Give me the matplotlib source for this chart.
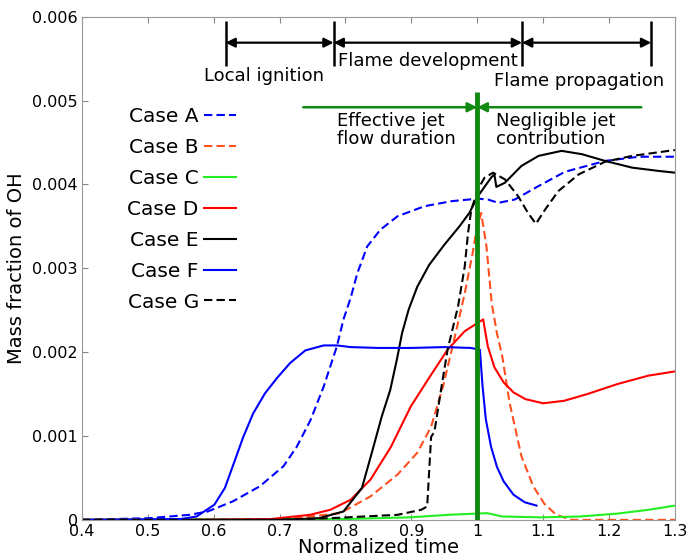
import matplotlib
matplotlib.use("Agg")
import matplotlib.pyplot as plt

# --- data ------------------------------------------------------------------
a_x = [0.4, 0.502, 0.563, 0.591, 0.629, 0.67, 0.706, 0.726, 0.747, 0.767, 0.787, 0.797,
       0.808, 0.818, 0.833, 0.853, 0.879, 0.92, 0.961, 1.001, 1.016, 1.032, 1.057,
       1.093, 1.133, 1.194, 1.245, 1.3]
a_y = [0, 0.00002, 0.00006, 0.0001, 0.00022, 0.0004, 0.00064, 0.00087, 0.00119,
       0.00159, 0.00207, 0.00239, 0.00265, 0.00294, 0.00326, 0.00346, 0.00362,
       0.00374, 0.0038, 0.00383, 0.00382, 0.00378, 0.00382, 0.00398, 0.00415,
       0.00428, 0.00433, 0.00433]

b_x = [0.4, 0.7, 0.792, 0.838, 0.879, 0.909, 0.93, 0.948, 0.965, 0.981, 0.993, 0.998,
       1.006, 1.014, 1.022, 1.03, 1.038, 1.049, 1.067, 1.085, 1.102, 1.12, 1.143, 1.3]
b_y = [0, 0, 0.00008, 0.00028, 0.00054, 0.0008, 0.00111, 0.00159, 0.00215, 0.0027,
       0.00318, 0.00342, 0.00366, 0.00326, 0.00258, 0.00222, 0.00195, 0.0014,
       0.00076, 0.0004, 0.00019, 0.00006, 0, 0]

c_x = [0.4, 0.8, 0.898, 0.956, 1.0, 1.015, 1.038, 1.096, 1.155, 1.213, 1.26, 1.3]
c_y = [0, 0.00001, 0.00003, 0.00006, 0.000075, 0.00008, 0.00004, 0.00003, 0.00004,
       0.000075, 0.00012, 0.00017]

d_x = [0.4, 0.55, 0.687, 0.746, 0.777, 0.808, 0.838, 0.869, 0.899, 0.925, 0.955,
       0.981, 1.001, 1.009, 1.016, 1.026, 1.04, 1.055, 1.073, 1.1, 1.132, 1.167,
       1.213, 1.26, 1.3]
d_y = [0, 0, 0.00001, 0.00006, 0.00012, 0.00024, 0.00048, 0.00087, 0.00135, 0.00167,
       0.00203, 0.00225, 0.00235, 0.00239, 0.00207, 0.00182, 0.00164, 0.00152,
       0.00144, 0.00139, 0.00142, 0.0015, 0.00162, 0.00172, 0.00177]

e_x = [0.4, 0.7, 0.76, 0.797, 0.825, 0.84, 0.855, 0.868, 0.878, 0.886, 0.896, 0.909,
       0.927, 0.95, 0.973, 0.988, 1.001, 1.021, 1.026, 1.029, 1.042, 1.067, 1.093,
       1.128, 1.159, 1.194, 1.235, 1.276, 1.3]
e_y = [0, 0, 0.00002, 0.0001, 0.00038, 0.0008, 0.00123, 0.00155, 0.00191, 0.00223,
       0.00251, 0.00278, 0.00304, 0.00328, 0.0035, 0.00366, 0.00386, 0.00408,
       0.00412, 0.00397, 0.00402, 0.00422, 0.00434, 0.0044, 0.00436, 0.00428,
       0.0042, 0.00416, 0.00414]

f_x = [0.4, 0.55, 0.574, 0.601, 0.617, 0.629, 0.645, 0.66, 0.678, 0.696, 0.716, 0.739,
       0.767, 0.787, 0.808, 0.85, 0.9, 0.95, 0.99, 1.004, 1.008, 1.013, 1.021, 1.03,
       1.04, 1.055, 1.072, 1.09]
f_y = [0, 0.00001, 0.00004, 0.00018, 0.00038, 0.00064, 0.00099, 0.00127, 0.00151,
       0.00169, 0.00187, 0.00202, 0.00208, 0.00208, 0.00206, 0.00205, 0.00205,
       0.00206, 0.00205, 0.00203, 0.0016, 0.0012, 0.00087, 0.00063, 0.00046,
       0.0003, 0.00021, 0.00017]

g_x = [0.4, 0.7, 0.777, 0.879, 0.915, 0.924, 0.93, 0.935, 0.945, 0.955, 0.971, 0.981,
       0.986, 0.991, 1.001, 1.011, 1.024, 1.042, 1.062, 1.077, 1.089, 1.103, 1.123,
       1.154, 1.194, 1.235, 1.3]
g_y = [0, 0, 0.00002, 0.00006, 0.00012, 0.00016, 0.00099, 0.00105, 0.00155, 0.00203,
       0.00255, 0.00302, 0.00342, 0.0037, 0.00394, 0.00408, 0.00414, 0.00406,
       0.00386, 0.00366, 0.00353, 0.0037, 0.00392, 0.00412, 0.00427, 0.00434, 0.00441]

phase_bounds = [0.618, 0.782, 1.068, 1.264]
phase_labels = ["Local ignition", "Flame development", "Flame propagation"]
jet_end = 1.0

x_ticks = [0.4, 0.5, 0.6, 0.7, 0.8, 0.9, 1.0, 1.1, 1.2, 1.3]
x_ticklabels = ["0.4", "0.5", "0.6", "0.7", "0.8", "0.9", "1", "1.1", "1.2", "1.3"]
y_ticks = [0, 0.001, 0.002, 0.003, 0.004, 0.005, 0.006]
y_ticklabels = ["0", "0.001", "0.002", "0.003", "0.004", "0.005", "0.006"]

# --- figure ------------------------------------------------------------------
fig = plt.figure(figsize=(6.88, 5.56), dpi=100)
ax = fig.add_axes([0.119, 0.065, 0.862, 0.905])

dash = (4, 2)
ax.plot(a_x, a_y, color="#0000ff", lw=1.5, dashes=dash, label="Case A")
ax.plot(b_x, b_y, color="#ff5020", lw=1.5, dashes=dash, label="Case B")
ax.plot(c_x, c_y, color="#22ee22", lw=1.5, label="Case C")
ax.plot(d_x, d_y, color="#ff0000", lw=1.5, label="Case D")
ax.plot(e_x, e_y, color="black", lw=1.5, label="Case E")
ax.plot(f_x, f_y, color="#0000ff", lw=1.5, label="Case F")
ax.plot(g_x, g_y, color="black", lw=1.5, dashes=dash, label="Case G")

# jet duration marker
green = "#118811"
ax.vlines(jet_end, 0, 0.0051, color=green, lw=3.5, zorder=5)
ax.annotate("", xy=(jet_end, 0.00492), xytext=(0.736, 0.00492),
            arrowprops=dict(arrowstyle="-|>", color=green, lw=1.8,
                            mutation_scale=14, shrinkA=0, shrinkB=0))
ax.annotate("", xy=(jet_end, 0.00492), xytext=(1.249, 0.00492),
            arrowprops=dict(arrowstyle="-|>", color=green, lw=1.8,
                            mutation_scale=14, shrinkA=0, shrinkB=0))
ax.text(0.787, 0.00465, "Effective jet\nflow duration", fontsize=13,
        va="center", ha="left", linespacing=1.0)
ax.text(1.028, 0.00465, "Negligible jet\ncontribution", fontsize=13,
        va="center", ha="left", linespacing=1.0)

# combustion phases
ax.vlines(phase_bounds, 0.00541, 0.00595, color="black", lw=1.8)
for x0, x1 in zip(phase_bounds[:-1], phase_bounds[1:]):
    ax.annotate("", xy=(x1, 0.00569), xytext=(x0, 0.00569),
                arrowprops=dict(arrowstyle="<|-|>", color="black", lw=1.6,
                                mutation_scale=14, shrinkA=0, shrinkB=0))
ax.text(0.676, 0.00529, phase_labels[0], fontsize=13, ha="center", va="center")
ax.text(0.925, 0.00547, phase_labels[1], fontsize=13, ha="center", va="center")
ax.text(1.155, 0.00523, phase_labels[2], fontsize=13, ha="center", va="center")

ax.set_xlim(0.4, 1.3)
ax.set_ylim(0, 0.006)
ax.set_xticks(x_ticks)
ax.set_xticklabels(x_ticklabels, fontsize=11.5)
ax.set_yticks(y_ticks)
ax.set_yticklabels(y_ticklabels, fontsize=11.5)
ax.tick_params(direction="in", top=True, right=False, length=4, color="#888888", pad=3)
for sp in ax.spines.values():
    sp.set_color("#999999")
ax.set_xlabel("Normalized time", fontsize=14, labelpad=-1)
ax.set_ylabel("Mass fraction of OH", fontsize=14, labelpad=4)

ax.legend(loc="upper right", bbox_to_anchor=(0.26, 0.82), frameon=False,
          markerfirst=False, fontsize=14.5, handlelength=1.6, handletextpad=0.25,
          labelspacing=0.59, borderpad=0, borderaxespad=0)

fig.savefig("out.png", dpi=100)
